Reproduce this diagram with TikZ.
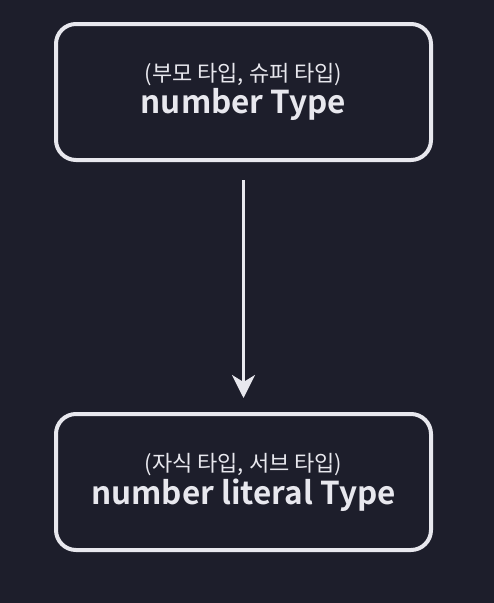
\documentclass[tikz,border=0pt]{standalone}
\usepackage{fontspec}
\setmainfont{Noto Sans CJK KR}[BoldFont={Noto Sans CJK KR Bold}]
\usetikzlibrary{arrows.meta}

\definecolor{bgdark}{HTML}{1D1E2B}
\definecolor{inkwhite}{HTML}{E8E8EE}

\tikzset{
  typebox/.style={draw=inkwhite, line width=4pt, rounded corners=20pt,
    minimum width=375pt, minimum height=136pt, align=center,
    text=inkwhite, inner sep=0pt},
  subarrow/.style={draw=inkwhite, line width=3pt,
    -{Stealth[length=23pt,width=23pt,inset=7pt]}}
}

\begin{document}
\begin{tikzpicture}[x=1pt,y=-1pt]

\fill[bgdark] (0,0) rectangle (494,603);
\useasboundingbox (0,0) rectangle (494,603);

% parent type
\node[typebox] (super) at (243.5,92)
  {\fontsize{22}{24}\selectfont (부모 타입, 슈퍼 타입)\\[2pt]
   \fontsize{31.5}{30}\selectfont\bfseries number Type};

% child type
\node[typebox] (sub) at (243.5,482)
  {\fontsize{22}{24}\selectfont (자식 타입, 서브 타입)\\[2pt]
   \fontsize{31.5}{30}\selectfont\bfseries number literal Type};

\draw[subarrow, shorten <=18pt, shorten >=14pt] (super) -- (sub);

\end{tikzpicture}
\end{document}
